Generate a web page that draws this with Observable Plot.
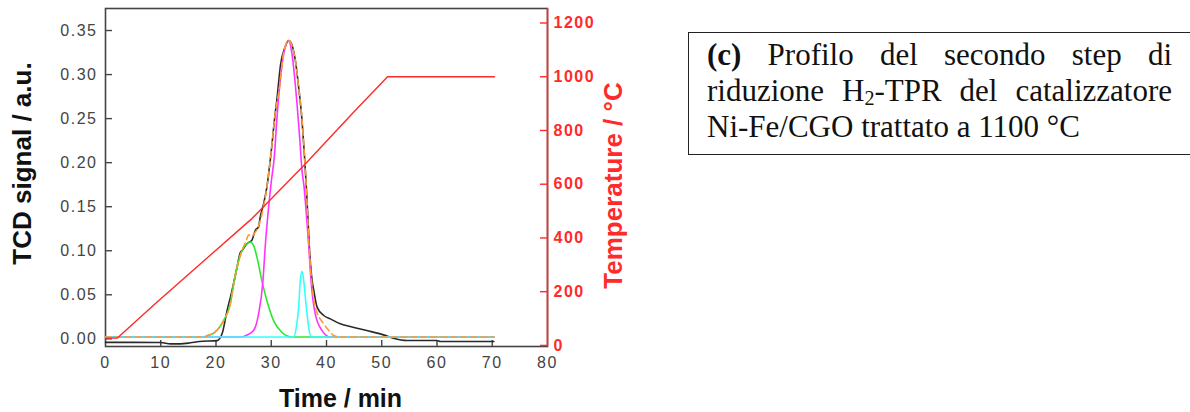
<!DOCTYPE html>
<html><head><meta charset="utf-8">
<script src="https://cdn.jsdelivr.net/npm/d3@7"></script>
<script src="https://cdn.jsdelivr.net/npm/@observablehq/plot@0.6"></script>
<style>
html,body{margin:0;padding:0;background:#fff;overflow:hidden;width:1190px;height:412px;}
#chart{position:absolute;left:0;top:0;}
#note{position:absolute;left:688px;top:32px;width:620px;height:123px;box-sizing:border-box;border:1.5px solid #222;padding:4px 0 0 18px;font-family:"Liberation Serif","Times New Roman",serif;font-size:31px;line-height:36px;color:#111;}
#note .line{width:465px;white-space:nowrap;}
#note .j{text-align:justify;text-align-last:justify;white-space:normal;}
#note sub{font-size:0.65em;line-height:0;vertical-align:-0.22em;}
g[aria-label="x-axis tick label"] text, g[aria-label="y-axis tick label"] text{letter-spacing:1.5px;}
</style></head>
<body>
<div id="chart"></div>
<div id="note">
  <div class="line j"><b>(c)</b> Profilo del secondo step di</div>
  <div class="line j">riduzione H<sub>2</sub>-TPR del catalizzatore</div>
  <div class="line">Ni-Fe/CGO trattato a 1100 °C</div>
</div>
<script>
// ---- tick values ----
const timeTicks = [0, 10, 20, 30, 40, 50, 60, 70, 80];
const signalTicks = [0, 0.05, 0.10, 0.15, 0.20, 0.25, 0.30, 0.35];
const tempTicks = [0, 200, 400, 600, 800, 1000, 1200];

// ---- measured TCD signal (black) ----
const tcdTime = [0, 5, 10, 11.8, 13.5, 15.4, 17, 20.2, 21.1, 22.0, 22.6, 22.9, 23.8, 24.4, 24.7, 25.6, 26.5, 27.1, 27.7, 28.0, 28.6, 29.2, 29.95, 30.7, 31.0, 31.7, 32.5, 33.15, 33.6, 34.36, 34.96, 35.57, 35.99, 36.35, 36.6, 36.9, 37.4, 37.7, 38.3, 39.5, 40.7, 42.5, 44.3, 47.3, 50.3, 52.1, 54.5, 60.0, 60.6, 70.3];
const tcdSignal = [-0.004, -0.004, -0.0042, -0.0057, -0.0057, -0.0045, -0.003, -0.002, 0.0057, 0.032, 0.047, 0.055, 0.081, 0.098, 0.100, 0.108, 0.112, 0.123, 0.127, 0.138, 0.153, 0.172, 0.210, 0.255, 0.2705, 0.312, 0.331, 0.3386, 0.336, 0.316, 0.2856, 0.248, 0.210, 0.172, 0.142, 0.104, 0.066, 0.055, 0.036, 0.0265, 0.0227, 0.017, 0.014, 0.0094, 0.0045, 0.0007, -0.0019, -0.0019, -0.003, -0.003];

// ---- deconvolution peaks ----
const greenTime = [0, 17.5, 18.4, 19.6, 20.5, 21.4, 22.6, 23.2, 23.8, 24.7, 25.4, 26.2, 26.8, 27.4, 28.3, 29.2, 30.4, 31.9, 33.0, 33.75, 70.3];
const greenSignal = [0.002, 0.002, 0.0035, 0.0065, 0.012, 0.021, 0.040, 0.062, 0.081, 0.100, 0.107, 0.110, 0.106, 0.093, 0.066, 0.0435, 0.021, 0.0075, 0.003, 0.002, 0.002];

const magentaTime = [0, 24.5, 25.5, 26.8, 27.7, 28.5, 28.9, 29.35, 30.0, 30.6, 31.0, 31.5, 32.25, 33.15, 33.75, 34.66, 35.14, 35.57, 35.95, 36.35, 36.8, 37.2, 37.97, 39.2, 40.7, 70.3];
const magentaSignal = [0.002, 0.002, 0.004, 0.0094, 0.028, 0.066, 0.104, 0.138, 0.178, 0.210, 0.248, 0.2856, 0.3235, 0.3386, 0.3235, 0.267, 0.229, 0.191, 0.172, 0.142, 0.104, 0.066, 0.028, 0.0094, 0.002, 0.002];

const cyanTime = [0, 34.05, 34.54, 34.96, 35.26, 35.57, 35.87, 36.35, 36.77, 37.2, 70.3];
const cyanSignal = [0.002, 0.002, 0.0133, 0.0357, 0.0663, 0.0767, 0.0663, 0.0357, 0.0133, 0.002, 0.002];

// ---- total fit (orange dashed) ----
const fitTime = [0, 18.0, 18.4, 19.6, 20.5, 21.4, 22.6, 23.2, 23.8, 24.7, 25.5, 25.9, 26.5, 27.1, 27.7, 28.6, 29.2, 29.95, 30.7, 31.5, 32.25, 33.15, 34.36, 34.96, 35.57, 35.99, 36.35, 36.8, 37.2, 37.97, 39.5, 40.5, 41.3, 42.5, 70.3];
const fitSignal = [0.002, 0.002, 0.0035, 0.0065, 0.012, 0.021, 0.040, 0.062, 0.081, 0.100, 0.112, 0.118, 0.117, 0.121, 0.128, 0.150, 0.172, 0.210, 0.255, 0.2856, 0.325, 0.3386, 0.316, 0.2856, 0.248, 0.210, 0.172, 0.110, 0.073, 0.036, 0.017, 0.009, 0.0037, 0.002, 0.002];

// ---- temperature (red, right axis) ----
const tempTime = [0, 2.1, 9.3, 17.2, 26.5, 36.2, 44.9, 51.05, 70.4];
const tempValue = [27, 27, 161, 304, 472, 676, 868, 1000, 1000];

// ---- build tables ----
const zip = (xs, ys) => xs.map((x, i) => ({x, y: ys[i]}));
const tcd = zip(tcdTime, tcdSignal);
const green = zip(greenTime, greenSignal);
const magenta = zip(magentaTime, magentaSignal);
const cyan = zip(cyanTime, cyanSignal);
const fit = zip(fitTime, fitSignal);
const temp = zip(tempTime, tempValue);

const yDomain = [-0.0087, 0.375];
const toS = d3.scaleLinear().domain([-4, 1254]).range(yDomain);

const RED = "#ff2a2a";
const AX = "#444";
const W = 660, H = 412, ML = 105, MR = 113, MT = 8, MB = 66;
const frameW = W - ML - MR, frameH = H - MT - MB;
const lineOpts = {x: "x", y: "y", strokeWidth: 1.6, curve: "monotone-x"};

const chart = Plot.plot({
  width: W, height: H,
  marginLeft: ML, marginRight: MR, marginTop: MT, marginBottom: MB,
  style: {background: "transparent", fontFamily: "'Liberation Sans', Arial, sans-serif", overflow: "visible"},
  x: {domain: [0, 80]},
  y: {domain: yDomain},
  marks: [
    Plot.frame({stroke: AX, strokeWidth: 1.6}),
    Plot.ruleX([80], {stroke: RED, strokeWidth: 1.6}),
    // inward ticks
    Plot.tickY(signalTicks, {y: d => d, stroke: AX, strokeWidth: 1.4, insetRight: frameW - 7}),
    Plot.tickX(timeTicks.slice(1, -1), {x: d => d, stroke: AX, strokeWidth: 1.4, insetTop: frameH - 6}),
    Plot.tickY(tempTicks.map(t => toS(t)), {y: d => d, stroke: RED, strokeWidth: 1.4, insetLeft: frameW - 7}),
    // axes labels
    Plot.axisX(timeTicks, {anchor: "bottom", tickSize: 0, tickPadding: 10, fill: AX, fontSize: 16, label: null}),
    Plot.axisY(signalTicks, {anchor: "left", tickSize: 0, tickPadding: 8, fill: AX, fontSize: 16, tickFormat: d3.format(".2f"), label: null}),
    Plot.axisY(tempTicks.map(t => toS(t)), {anchor: "right", tickSize: 0, tickPadding: 6, fill: RED, fontSize: 16, fontWeight: "bold", tickFormat: d => String(Math.round(toS.invert(d))), label: null}),
    // curves
    Plot.line(tcd, {...lineOpts, stroke: "#2a2a2a"}),
    Plot.line(green, {...lineOpts, stroke: "#2ee62e"}),
    Plot.line(magenta, {...lineOpts, stroke: "#ff33ff"}),
    Plot.line(cyan, {...lineOpts, stroke: "#33ffff"}),
    Plot.line(fit, {...lineOpts, stroke: "#ff9933", strokeDasharray: "6,4"}),
    Plot.line(temp, {x: "x", y: d => toS(d.y), stroke: RED, strokeWidth: 1.4}),
    // axis titles
    Plot.text(["TCD signal / a.u."], {text: d => d, frameAnchor: "left", textAnchor: "middle", lineAnchor: "middle", dx: -83, dy: -14, rotate: -90, fontSize: 26, fontWeight: "bold", fill: "#111"}),
    Plot.text(["Temperature / °C"], {text: d => d, frameAnchor: "right", textAnchor: "middle", lineAnchor: "middle", dx: 66, dy: 8, rotate: -90, fontSize: 26, fontWeight: "bold", fill: RED}),
    Plot.text(["Time / min"], {text: d => d, frameAnchor: "bottom", textAnchor: "middle", lineAnchor: "middle", dx: 14, dy: 52, fontSize: 25, fontWeight: "bold", fill: "#111"})
  ]
});
document.getElementById("chart").append(chart);
</script>
</body></html>
